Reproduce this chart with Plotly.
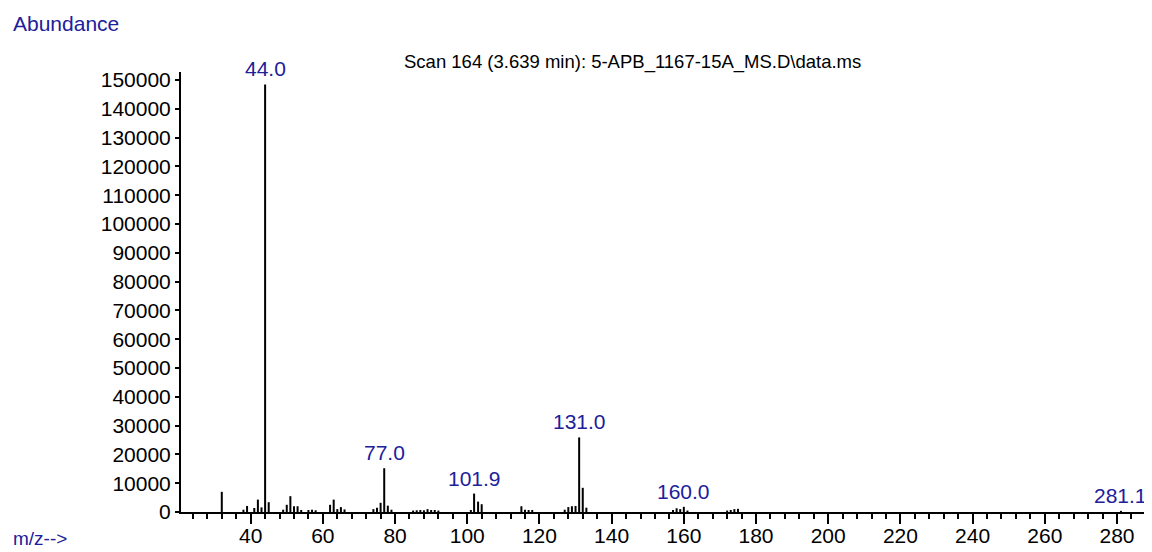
import plotly.graph_objects as go

# m/z values and abundances
mz = [32.0, 38.0, 39.0, 41.0, 42.0, 43.0, 44.0, 45.0,
      49.0, 50.0, 51.0, 52.0, 53.0, 54.0, 56.0, 57.0, 58.0,
      62.0, 63.0, 64.0, 65.0, 66.0,
      74.0, 75.0, 76.0, 77.0, 78.0, 79.0,
      85.0, 86.0, 87.0, 88.0, 89.0, 90.0, 91.0, 92.0,
      101.0, 101.9, 103.0, 104.0,
      115.0, 116.0, 117.0, 118.0,
      127.0, 128.0, 129.0, 130.0, 131.0, 132.0, 133.0,
      157.0, 158.0, 159.0, 160.0, 161.0,
      172.0, 173.0, 174.0, 175.0,
      281.1]
abundance = [7000, 800, 2100, 1400, 4300, 1600, 148500, 3400,
             800, 2500, 5500, 2000, 2000, 700, 700, 800, 600,
             2500, 4300, 1000, 1700, 900,
             1000, 1500, 3200, 15200, 2200, 800,
             500, 600, 700, 600, 1000, 700, 700, 500,
             700, 6400, 3600, 2700,
             2000, 800, 700, 700,
             800, 1700, 2000, 2100, 25900, 8400, 1500,
             700, 1300, 1000, 1800, 500,
             500, 700, 1000, 1100,
             400]

labeled_mz = [44.0, 77.0, 101.9, 131.0, 160.0, 281.1]
y_ticks = list(range(0, 150001, 10000))

title_text = "Scan 164 (3.639 min): 5-APB_1167-15A_MS.D\\data.ms"
y_label = "Abundance"
x_label = "m/z-->"

BLUE = "#20209a"
FONT = "Liberation Sans, Arial, sans-serif"

# stick spectrum
xs, ys = [], []
for m, a in zip(mz, abundance):
    xs += [m, m, None]
    ys += [0, a, None]

fig = go.Figure()
fig.add_trace(go.Scatter(x=xs, y=ys, mode="lines",
                         line=dict(color="black", width=2),
                         hoverinfo="skip", showlegend=False))

OFF = 8  # page body margin
W, H = 1152 - OFF, 552 - OFF
L, R, T = 181 - OFF, 0, 72 - OFF
BOTTOM = 512 - OFF
B = H - BOTTOM
plot_w = W - L - R
plot_h = BOTTOM - T

def px_x(px):
    return (px - OFF - L) / plot_w

def px_y(py):
    return (BOTTOM - (py - OFF)) / plot_h

annotations = []
for m in labeled_mz:
    a = abundance[mz.index(m)]
    annotations.append(dict(x=m, y=a, xref="x", yref="y", text=f"{m:.1f}",
                            showarrow=False, xanchor="center", yanchor="bottom",
                            yshift=2, font=dict(family=FONT, size=21, color=BLUE)))

annotations.append(dict(x=px_x(632), y=px_y(62),
                        xref="paper", yref="paper", text=title_text,
                        showarrow=False, xanchor="center", yanchor="middle",
                        font=dict(family=FONT, size=18.5, color="black")))
annotations.append(dict(x=px_x(11), y=px_y(24),
                        xref="paper", yref="paper", text=y_label,
                        showarrow=False, xanchor="left", yanchor="middle",
                        font=dict(family=FONT, size=21, color=BLUE)))
annotations.append(dict(x=px_x(11), y=px_y(551),
                        xref="paper", yref="paper", text=x_label,
                        showarrow=False, xanchor="left", yanchor="bottom",
                        font=dict(family=FONT, size=19, color=BLUE)))

fig.update_layout(
    width=W, height=H, autosize=False,
    margin=dict(l=L, r=R, t=T, b=B, pad=0),
    paper_bgcolor="white", plot_bgcolor="white",
    annotations=annotations,
    xaxis=dict(range=[20.7, 289.7], tick0=0, dtick=20,
               ticks="outside", ticklen=10, tickwidth=2, tickcolor="black",
               ticklabelstandoff=-6,
               showline=True, linewidth=2, linecolor="black",
               showgrid=False, zeroline=False,
               minor=dict(dtick=4, tick0=0, ticks="outside", ticklen=5,
                          tickwidth=1.5, tickcolor="black", showgrid=False),
               tickfont=dict(family=FONT, size=21, color="black")),
    yaxis=dict(range=[0, 152800], tickvals=y_ticks,
               ticktext=[str(v) for v in y_ticks],
               ticks="outside", ticklen=4, tickwidth=1.5, tickcolor="black",
               showline=True, linewidth=2, linecolor="black",
               showgrid=False, zeroline=False,
               tickfont=dict(family=FONT, size=21, color="black")),
)

fig.write_html("out.html")
